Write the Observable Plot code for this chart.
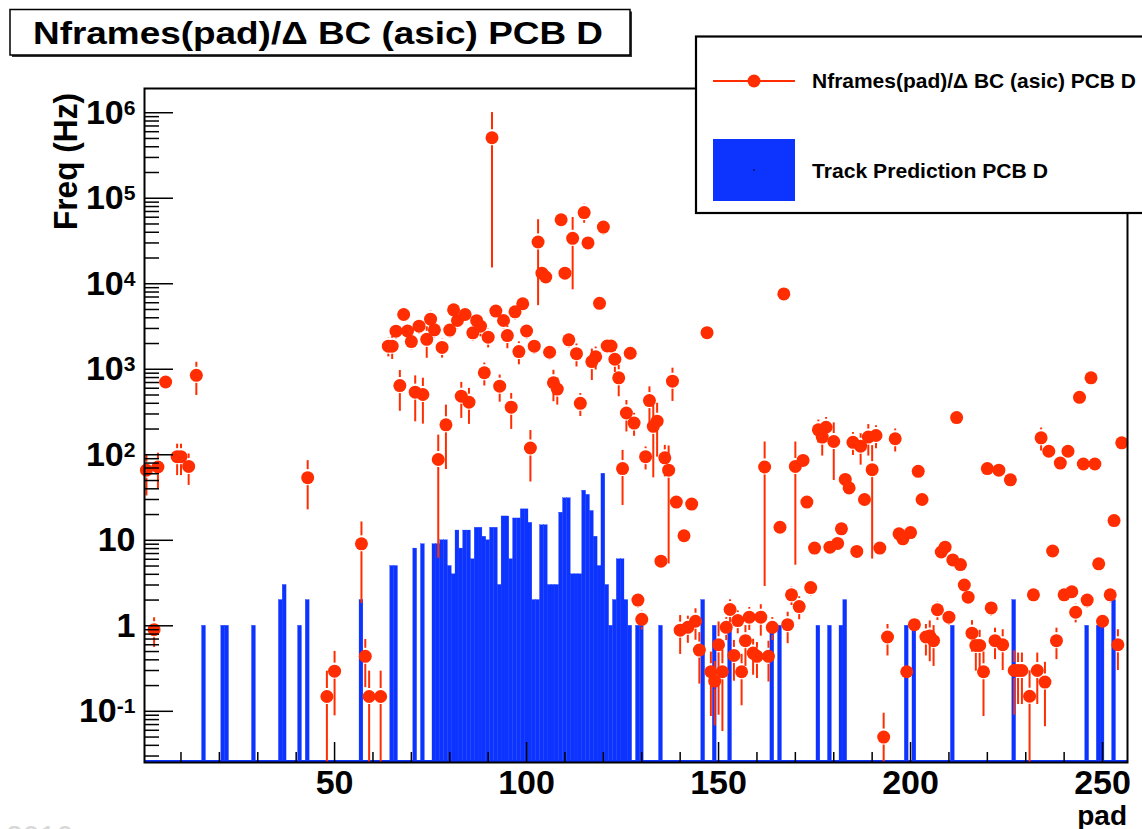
<!DOCTYPE html>
<html>
<head>
<meta charset="utf-8">
<script src="https://cdn.jsdelivr.net/npm/d3@7"></script>
<script src="https://cdn.jsdelivr.net/npm/@observablehq/plot@0.6"></script>
<style>
  html, body { margin: 0; padding: 0; background: #fff; overflow: hidden; }
  #wrap { position: relative; width: 1142px; height: 829px; }
</style>
</head>
<body>
<div id="wrap"></div>
<script>
// ---------- DATA ----------
// Red series: Nframes(pad)/Δ BC (asic) PCB D  — pad number, frequency (Hz), relative error
const padBins = [1,3,4,6,9,10,12,14,43,48,50,57,58,59,62,
  64,65,66,67,68,69,70,71,72,73,74,75,76,77,78,79,80,81,82,83,84,85,86,87,88,89,90,
  91,92,93,94,95,96,97,98,99,100,101,102,103,104,105,106,107,108,109,110,111,112,113,114,115,116,117,118,119,120,
  121,122,123,124,125,126,127,128,129,130,131,132,133,134,135,136,137,138,139,140,141,142,143,144,145,147,148,149,150,
  151,152,153,154,155,156,157,158,159,160,161,162,163,164,166,167,168,169,170,171,172,173,174,175,176,177,178,179,180,
  181,182,183,184,185,186,187,188,189,190,191,192,193,194,196,197,198,199,200,201,202,203,204,205,206,207,208,209,210,
  211,212,213,214,215,216,217,218,219,220,221,222,223,224,226,227,228,229,231,232,233,234,235,236,237,238,239,240,
  241,242,243,244,245,246,247,248,249,250,252,253,254,255];
const padFreq = [66,0.9,72,710,95,95,73,850,54,0.149,0.295,9.1,0.44,0.149,0.149,
  1860,1860,2790,645,4370,2800,2110,540,3190,507,2240,3850,2890,88,1800,224,2870,4960,3720,484,4370,412,2670,3700,3190,910,2370,
  510000,4790,634,3720,2480,360,4700,1610,5840,2800,120,1860,30800,13300,12000,1580,695,586,56000,13300,2210,34000,1520,400,68000,30000,1230,1400,5900,46000,
  1870,1870,1310,795,69,308,1540,235,2.0,1.19,95,430,215,247,5.7,92,66,725,28,0.89,11.3,0.96,26.5,1.13,0.52,2680,0.29,0.225,0.6,
  0.29,0.96,1.55,0.45,1.15,0.29,0.67,1.26,0.48,0.44,1.26,72,0.44,0.96,14.2,7600,1.03,2.3,73,1.68,86,28,2.8,8.1,196,161,210,8.3,143,
  9.2,13.6,51.5,41,140,7.4,126,30,161,67,168,8.1,0.05,0.74,154,11.9,10.4,0.29,12.3,1.03,64,30,0.74,0.76,0.67,1.54,7.3,8.3,1.26,
  5.9,272,5.2,3.0,2.16,0.82,0.59,0.59,0.29,69,1.62,0.67,66,0.6,51,0.30,0.30,0.30,0.15,2.3,0.30,158,0.22,110,7.5,0.67,80,2.3,
  110,2.5,1.44,470,78,2.0,795,78,5.3,1.13,2.3,17,0.6,138];
const padRelErr = [0.5,0.38,0.45,0.08,0.4,0.4,0.4,0.42,0.58,0.98,0.7,0.8,0.57,0.98,0.98,
  0.25,0.3,0.2,0.5,0.15,0.2,0.2,0.55,0.2,0.55,0.4,0.25,0.2,0.93,0.25,0.7,0.2,0.15,0.2,0.45,0.15,0.45,0.2,0.2,0.25,0.3,0.25,
  0.97,0.15,0.35,0.2,0.3,0.45,0.2,0.3,0.1,0.2,0.6,0.2,0.82,0.2,0.15,0.2,0.4,0.35,0.1,0.1,0.2,0.75,0.3,0.3,0.25,0.1,0.4,0.3,0.08,0.2,
  0.15,0.15,0.3,0.4,0.63,0.4,0.1,0.3,0.2,0.25,0.3,0.45,0.75,0.62,0.1,0.4,0.92,0.42,0.05,0.48,0.05,0.35,0.05,0.4,0.6,0.1,0.7,0.7,0.85,
  0.8,0.3,0.3,0.5,0.3,0.6,0.5,0.3,0.45,0.45,0.4,0.96,0.5,0.3,0.05,0.15,0.4,0.25,0.93,0.3,0.05,0.05,0.2,0.05,0.3,0.4,0.3,0.05,0.65,
  0.05,0.05,0.05,0.05,0.3,0.05,0.4,0.05,0.4,0.91,0.3,0.05,0.9,0.4,0.3,0.05,0.05,0.1,0.05,0.2,0.05,0.05,0.4,0.5,0.5,0.25,0.05,0.05,0.2,
  0.05,0.15,0.05,0.05,0.15,0.4,0.5,0.5,0.7,0.05,0.2,0.4,0.05,0.5,0.05,0.7,0.6,0.6,0.98,0.15,0.6,0.3,0.7,0.05,0.05,0.4,0.05,0.1,
  0.05,0.1,0.25,0.05,0.05,0.2,0.1,0.05,0.05,0.2,0.2,0.05,0.5,0.05];

// Blue histogram: Track Prediction PCB D — pad number, frequency (Hz)
const trackBins = [16,21,22,29,36,37,41,43,57,65,66,71,73,
  76,77,78,79,80,81,82,83,84,85,86,87,88,89,90,91,92,93,94,95,96,97,98,99,100,
  101,102,103,104,105,106,107,108,109,110,111,112,113,114,115,116,117,118,119,120,
  121,122,123,124,125,126,127,129,130,135,146,149,153,164,166,176,179,182,183,199,201,211,227,246,249,250,253];
const trackFreq = [1,1,1,1,2,3,1,2,2,5,5,8,9,
  9,9,10,10,5,4,13,8,13,13,6,14,14,11,10,14,14,3,19,19,6,18,18,23,23,
  16,2,2,15,15,3,3,3,21,31,31,4,4,4,38,34,22,11,5,60,
  3,1,2,6,6,2,1,1,1,1,2,1,1,1,1,1,1,1,2,1,1,1,2,1,1,1,2];

// Axis ticks and labels
const yTicks = [0.1, 1, 10, 100, 1e3, 1e4, 1e5, 1e6];
const yTickLabels = ["10^-1", "1", "10", "10^2", "10^3", "10^4", "10^5", "10^6"];
const xTicks = [50, 100, 150, 200, 250];
const xLabel = "pad";
const yLabel = "Freq (Hz)";
const titleText = "Nframes(pad)/\u0394 BC (asic) PCB D";
const legendRed = "Nframes(pad)/\u0394 BC (asic) PCB D";
const legendBlue = "Track Prediction PCB D";

// ---------- STYLE / LAYOUT ----------
const RED = "#ff2d00";
const BLUE = "#0d33ff";
const W = 1142, H = 829;
const mL = 144, mR = 15, mT = 88, mB = 67;
const plotW = W - mL - mR, plotH = H - mT - mB;
const xDomain = [0.5, 256.5];
const yDomain = [0.0252, 1.92e6];
const decadePx = plotH / Math.log10(yDomain[1] / yDomain[0]);
const unitPx = plotW / (xDomain[1] - xDomain[0]);
const yFactor = px => Math.pow(10, px / decadePx);
const FONT = "'Liberation Sans', Arial, Helvetica, sans-serif";

const points = padBins.map((b, i) => ({bin: b, freq: padFreq[i], err: padFreq[i] * padRelErr[i]}));
const tracks = trackBins.map((b, i) => ({bin: b, freq: trackFreq[i]}));

const gapF = yFactor(8);
const lowerSeg = points.map(d => ({bin: d.bin, y1: Math.max(d.freq - d.err, yDomain[0]), y2: d.freq / gapF})).filter(s => s.y1 < s.y2);
const upperSeg = points.map(d => ({bin: d.bin, y1: d.freq * gapF, y2: d.freq + d.err})).filter(s => s.y1 < s.y2);

const yMinor = [];
for (let e = -2; e <= 6; e++) for (let k = 2; k <= 9; k++) {
  const v = k * Math.pow(10, e);
  if (v > yDomain[0] && v < yDomain[1]) yMinor.push(v);
}
const xMinor = d3.range(10, 257, 10).filter(v => v % 50 !== 0);

const chart = Plot.plot({
  width: W, height: H,
  marginLeft: mL, marginRight: mR, marginTop: mT, marginBottom: mB,
  style: {fontFamily: FONT, background: "white", overflow: "visible"},
  x: {domain: xDomain},
  y: {type: "log", domain: yDomain},
  marks: [
    Plot.rect(tracks, {x1: d => d.bin - 0.5, x2: d => d.bin + 0.5, y1: yDomain[0], y2: "freq",
      fill: BLUE, stroke: BLUE, strokeWidth: 0.3, clip: true}),
    Plot.ruleY([yDomain[0]], {stroke: BLUE, strokeWidth: 2, dy: -1.5, clip: true}),
    Plot.ruleX(lowerSeg, {x: "bin", y1: "y1", y2: "y2", stroke: RED, strokeWidth: 2, clip: true}),
    Plot.ruleX(upperSeg, {x: "bin", y1: "y1", y2: "y2", stroke: RED, strokeWidth: 2, clip: true}),
    Plot.dot(points, {x: "bin", y: "freq", r: 6.5, fill: RED, stroke: "none"}),
    Plot.frame({stroke: "black", strokeWidth: 2}),
    Plot.ruleY(yMinor, {y: d => d, x1: xDomain[0], x2: xDomain[0] + 15 / unitPx, stroke: "black", strokeWidth: 1.5}),
    Plot.ruleY(yTicks, {y: d => d, x1: xDomain[0], x2: xDomain[0] + 29 / unitPx, stroke: "black", strokeWidth: 1.5}),
    Plot.ruleX(xMinor, {x: d => d, y1: yDomain[0], y2: yDomain[0] * yFactor(10), stroke: "black", strokeWidth: 1.5}),
    Plot.ruleX(xTicks, {x: d => d, y1: yDomain[0], y2: yDomain[0] * yFactor(20), stroke: "black", strokeWidth: 1.5}),
    Plot.axisY({ticks: yTicks, tickFormat: d => yTickLabels[yTicks.indexOf(d)], tickSize: 0, tickPadding: 9,
      fontSize: 34, fontWeight: "bold", label: null, fill: "black"}),
    Plot.axisX({ticks: xTicks, tickSize: 0, tickPadding: 7, fontSize: 34, fontWeight: "bold", label: null, fill: "black"})
  ]
});

document.getElementById("wrap").appendChild(chart);

// superscripts for log tick labels
const NS = "http://www.w3.org/2000/svg";
chart.querySelectorAll('g[aria-label="y-axis tick label"] text').forEach(t => {
  const s = t.textContent;
  const parts = s.split("^");
  if (parts.length === 2) {
    t.textContent = parts[0];
    const ts = document.createElementNS(NS, "tspan");
    ts.setAttribute("dy", "-0.42em");
    ts.setAttribute("font-size", "0.62em");
    ts.textContent = parts[1];
    t.appendChild(ts);
  }
});

const svg = d3.select(chart);
const addText = (x, y, txt, size, opts = {}) => {
  const t = svg.append("text")
    .attr("x", x).attr("y", y)
    .attr("text-anchor", opts.anchor || "start")
    .attr("font-family", FONT).attr("font-weight", opts.weight || "bold")
    .attr("font-size", size).attr("fill", opts.fill || "black")
    .text(txt);
  if (opts.len) t.attr("textLength", opts.len).attr("lengthAdjust", "spacingAndGlyphs");
  if (opts.transform) t.attr("transform", opts.transform);
  return t;
};

// y axis title
addText(0, 0, yLabel, 33, {anchor: "end", len: 137, transform: "translate(77,93) rotate(-90)"});

// x axis title
addText(1127, 825, xLabel, 28, {anchor: "end"});

// title box (with shadow)
svg.append("rect").attr("x", 12).attr("y", 11.5).attr("width", 620).attr("height", 45.5).attr("fill", "#333");
svg.append("rect").attr("x", 10).attr("y", 9.5).attr("width", 620).attr("height", 45.5)
  .attr("fill", "white").attr("stroke", "black").attr("stroke-width", 1.5);
addText(33, 43.5, titleText, 32, {len: 570});

// legend
svg.append("rect").attr("x", 696).attr("y", 36.5).attr("width", 470).attr("height", 176.5)
  .attr("fill", "white").attr("stroke", "black").attr("stroke-width", 2.2);
svg.append("line").attr("x1", 713).attr("x2", 795).attr("y1", 81).attr("y2", 81)
  .attr("stroke", RED).attr("stroke-width", 2);
svg.append("circle").attr("cx", 754).attr("cy", 81).attr("r", 6.5).attr("fill", RED);
addText(812, 87.5, legendRed, 21, {len: 324});
svg.append("rect").attr("x", 713).attr("y", 139).attr("width", 82).attr("height", 62).attr("fill", BLUE);
svg.append("circle").attr("cx", 754).attr("cy", 170).attr("r", 0.8).attr("fill", "black");
addText(812, 177.5, legendBlue, 21, {len: 236});

// faint year stamp at the bottom edge
addText(6, 846, "2016", 30, {weight: "normal", fill: "#d8d8d8"});
</script>
</body>
</html>
